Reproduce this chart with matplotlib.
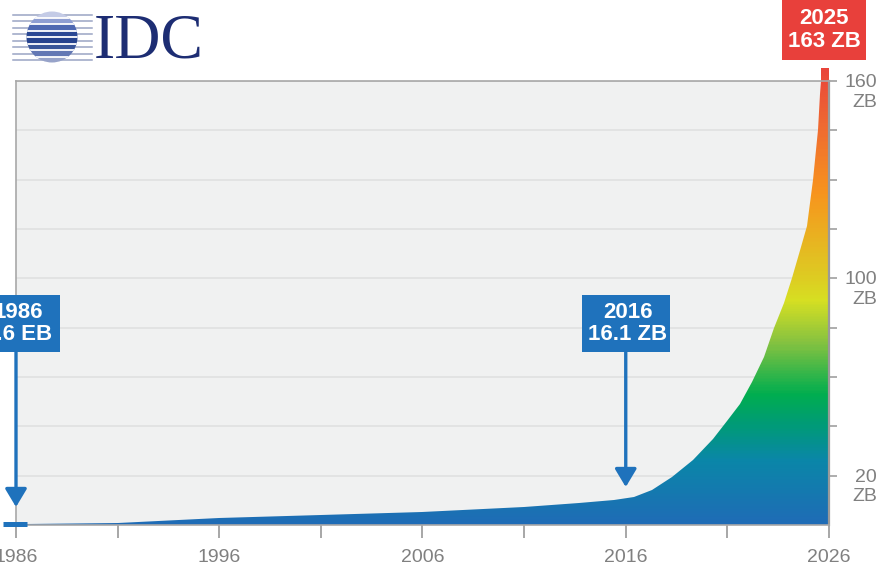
import numpy as np
import matplotlib
matplotlib.use('Agg')
import matplotlib.pyplot as plt
from matplotlib.colors import LinearSegmentedColormap
from matplotlib.patches import Circle, Rectangle
from matplotlib.transforms import IdentityTransform

plt.rcParams['font.family'] = ['Liberation Sans', 'DejaVu Sans']

# Data (zettabytes per year)
years = [1986.5, 1991, 1996, 2001, 2006, 2011, 2013.7, 2015.4, 2016.4, 2017.3,
         2018.3, 2019.3, 2020.3, 2021.0, 2021.6, 2022.2, 2022.8, 2023.3, 2023.8,
         2024.2, 2024.6, 2024.9, 2025.2, 2025.3, 2025.45, 2025.55, 2025.6,
         2025.62, 2026]
zb = [0.4, 0.9, 2.7, 4.1, 5.3, 7.1, 8.8, 10.1, 11.5, 14.2,
      19.5, 26.5, 35, 42, 49, 58, 68, 80, 90,
      100, 109.5, 116, 130, 136, 145, 156, 160,
      164, 164]

x_ticks = [1986, 1991, 1996, 2001, 2006, 2011, 2016, 2021, 2026]
x_labels = ['1986', '', '1996', '', '2006', '', '2016', '', '2026']
y_ticks = [20, 40, 60, 80, 100, 115, 130, 145, 160]
y_labels = {20: '20\nZB', 100: '100\nZB', 160: '160\nZB'}

callouts = [  # year, text, colour, arrow tip value
    (1986, '1986\n2.6 EB', '#1f72bc', 7.3),
    (2016, '2016\n16.1 ZB', '#1f72bc', 15.4),
]
peak_label = '2025\n163 ZB'

# gradient stops (value in ZB, colour)
grad = [(0, '#1f6bb6'), (26, '#0a86a8'), (40, '#009a78'), (53, '#00ad4f'),
        (74, '#86c240'), (91, '#d6df22'), (106, '#e2c022'), (126, '#f7941d'),
        (146, '#ef6b30'), (166, '#e8403b')]


def fwd(v):
    v = np.asarray(v, dtype=float)
    return np.where(v <= 100, v / 20.0, 5 + (v - 100) / 15.0)


def inv(u):
    u = np.asarray(u, dtype=float)
    return np.where(u <= 5, u * 20.0, 100 + (u - 5) * 15.0)


W, H = 880, 564
fig = plt.figure(figsize=(W / 100, H / 100), dpi=100)
ax = fig.add_axes([16 / W, (H - 525) / H, (829 - 16) / W, (525 - 81) / H])
ax.set_facecolor('#f0f1f1')
ax.set_yscale('function', functions=(fwd, inv))

# area with vertical colour gradient, clipped to the data polygon
poly = ax.fill_between(years, 0, zb, facecolor='none', edgecolor='none')
cmap = LinearSegmentedColormap.from_list('idc', [(v / 166, c) for v, c in grad])
ye = np.linspace(0, 166, 400)
xe = np.array([1985, 2027])
yc = 0.5 * (ye[:-1] + ye[1:])
C = yc[:, None]
mesh = ax.pcolormesh(xe, ye, C, cmap=cmap, vmin=0, vmax=166, shading='flat', zorder=1.5)
mesh.set_clip_path(poly.get_paths()[0], ax.transData)
mesh.set_clip_box(None)

# small 1986 bar
ax.plot([1985.36, 1986.55], [0.6, 0.6], color='#1f72bc', lw=3.6,
        solid_capstyle='butt', clip_on=False, zorder=3)

ax.set_xlim(1986, 2026)
ax.set_ylim(0, 160)

ax.set_xticks(x_ticks)
ax.set_xticklabels(x_labels)
ax.tick_params(axis='x', direction='out', length=9, width=1.3, color='#a0a0a0',
               labelcolor='#808080', labelsize=14, pad=8)

ax.yaxis.tick_right()
ax.set_yticks(y_ticks)
ax.set_yticklabels([''] * len(y_ticks))
ax.tick_params(axis='y', direction='out', length=6, width=1.2, color='#a0a0a0')
ax.yaxis.grid(True, color='#e0e1e1', lw=1.2)
ax.set_axisbelow(True)
for v, t in y_labels.items():
    ax.annotate(t, xy=(1, v), xycoords=('axes fraction', 'data'),
                xytext=(34.5, 5), textcoords='offset points',
                ha='right', va='top', multialignment='right',
                fontsize=14, color='#808080', linespacing=1.2,
                annotation_clip=False)

for side in ['left', 'top', 'bottom']:
    ax.spines[side].set_color('#a8a8a8')
    ax.spines[side].set_linewidth(1.2)
ax.spines['right'].set_color('#9a9a9a')
ax.spines['right'].set_linewidth(1.6)

# callouts: fixed-size boxes (88 x 57 px, top at 295 px) with arrows
box_w, box_h, box_top = 88, 57, 295
for yr, txt, col, tip in callouts:
    xpx = ax.transData.transform((yr, 1))[0]
    fig.add_artist(Rectangle((xpx - box_w / 2, H - box_top - box_h), box_w, box_h,
                             transform=IdentityTransform(), fc=col, ec='none', zorder=5))
    fig.text((xpx + 2) / W, (H - box_top - box_h / 2) / H, txt, ha='center', va='center',
             color='white', fontsize=16, fontweight='bold', linespacing=1.1, zorder=6)
    ax.annotate('', xy=(yr, tip), xycoords='data',
                xytext=(yr, H - box_top - box_h), textcoords=('data', 'figure pixels'),
                arrowprops=dict(arrowstyle='-|>,head_length=0.55,head_width=0.33',
                                mutation_scale=20, color=col, lw=2.4,
                                shrinkA=0, shrinkB=0),
                annotation_clip=False, zorder=5)

fig.add_artist(Rectangle((782, H - 60), 84, 60, transform=IdentityTransform(),
                         fc='#e8403b', ec='none', zorder=5))
fig.text(824 / W, (H - 30) / H, peak_label, ha='center', va='center',
         color='white', fontsize=16, fontweight='bold', linespacing=1.1, zorder=6)

# IDC logo
lax = fig.add_axes([0, (H - 66) / H, 220 / W, 66 / H])
lax.set_xlim(0, 220)
lax.set_ylim(66, 0)
lax.axis('off')
stripe_y = np.linspace(15, 60, 8)
for yy in stripe_y:
    lax.plot([13, 92], [yy, yy], color='#9aa4c4', lw=1.1, zorder=1)
globe = Circle((52, 37), 25.5, transform=lax.transData)
band_cols = ['#c4cbe6', '#8e9ed2', '#4f69b2', '#2a4894', '#26438e', '#385599',
             '#6378b4', '#97a3c9']
edges = np.linspace(11, 63, len(band_cols) + 1)
for i, c in enumerate(band_cols):
    r = Rectangle((25, edges[i]), 55, edges[i + 1] - edges[i], fc=c, ec='none', zorder=2)
    lax.add_patch(r)
    r.set_clip_path(globe)
for yy in edges[1:-1]:
    ln, = lax.plot([25, 80], [yy, yy], color='white', lw=1.3, zorder=3)
    ln.set_clip_path(globe)
lax.text(94, 57, 'IDC', family=['Liberation Serif', 'DejaVu Serif'], fontsize=46,
         color='#1d2d73', ha='left', va='baseline')

fig.savefig('out.png', dpi=100)
